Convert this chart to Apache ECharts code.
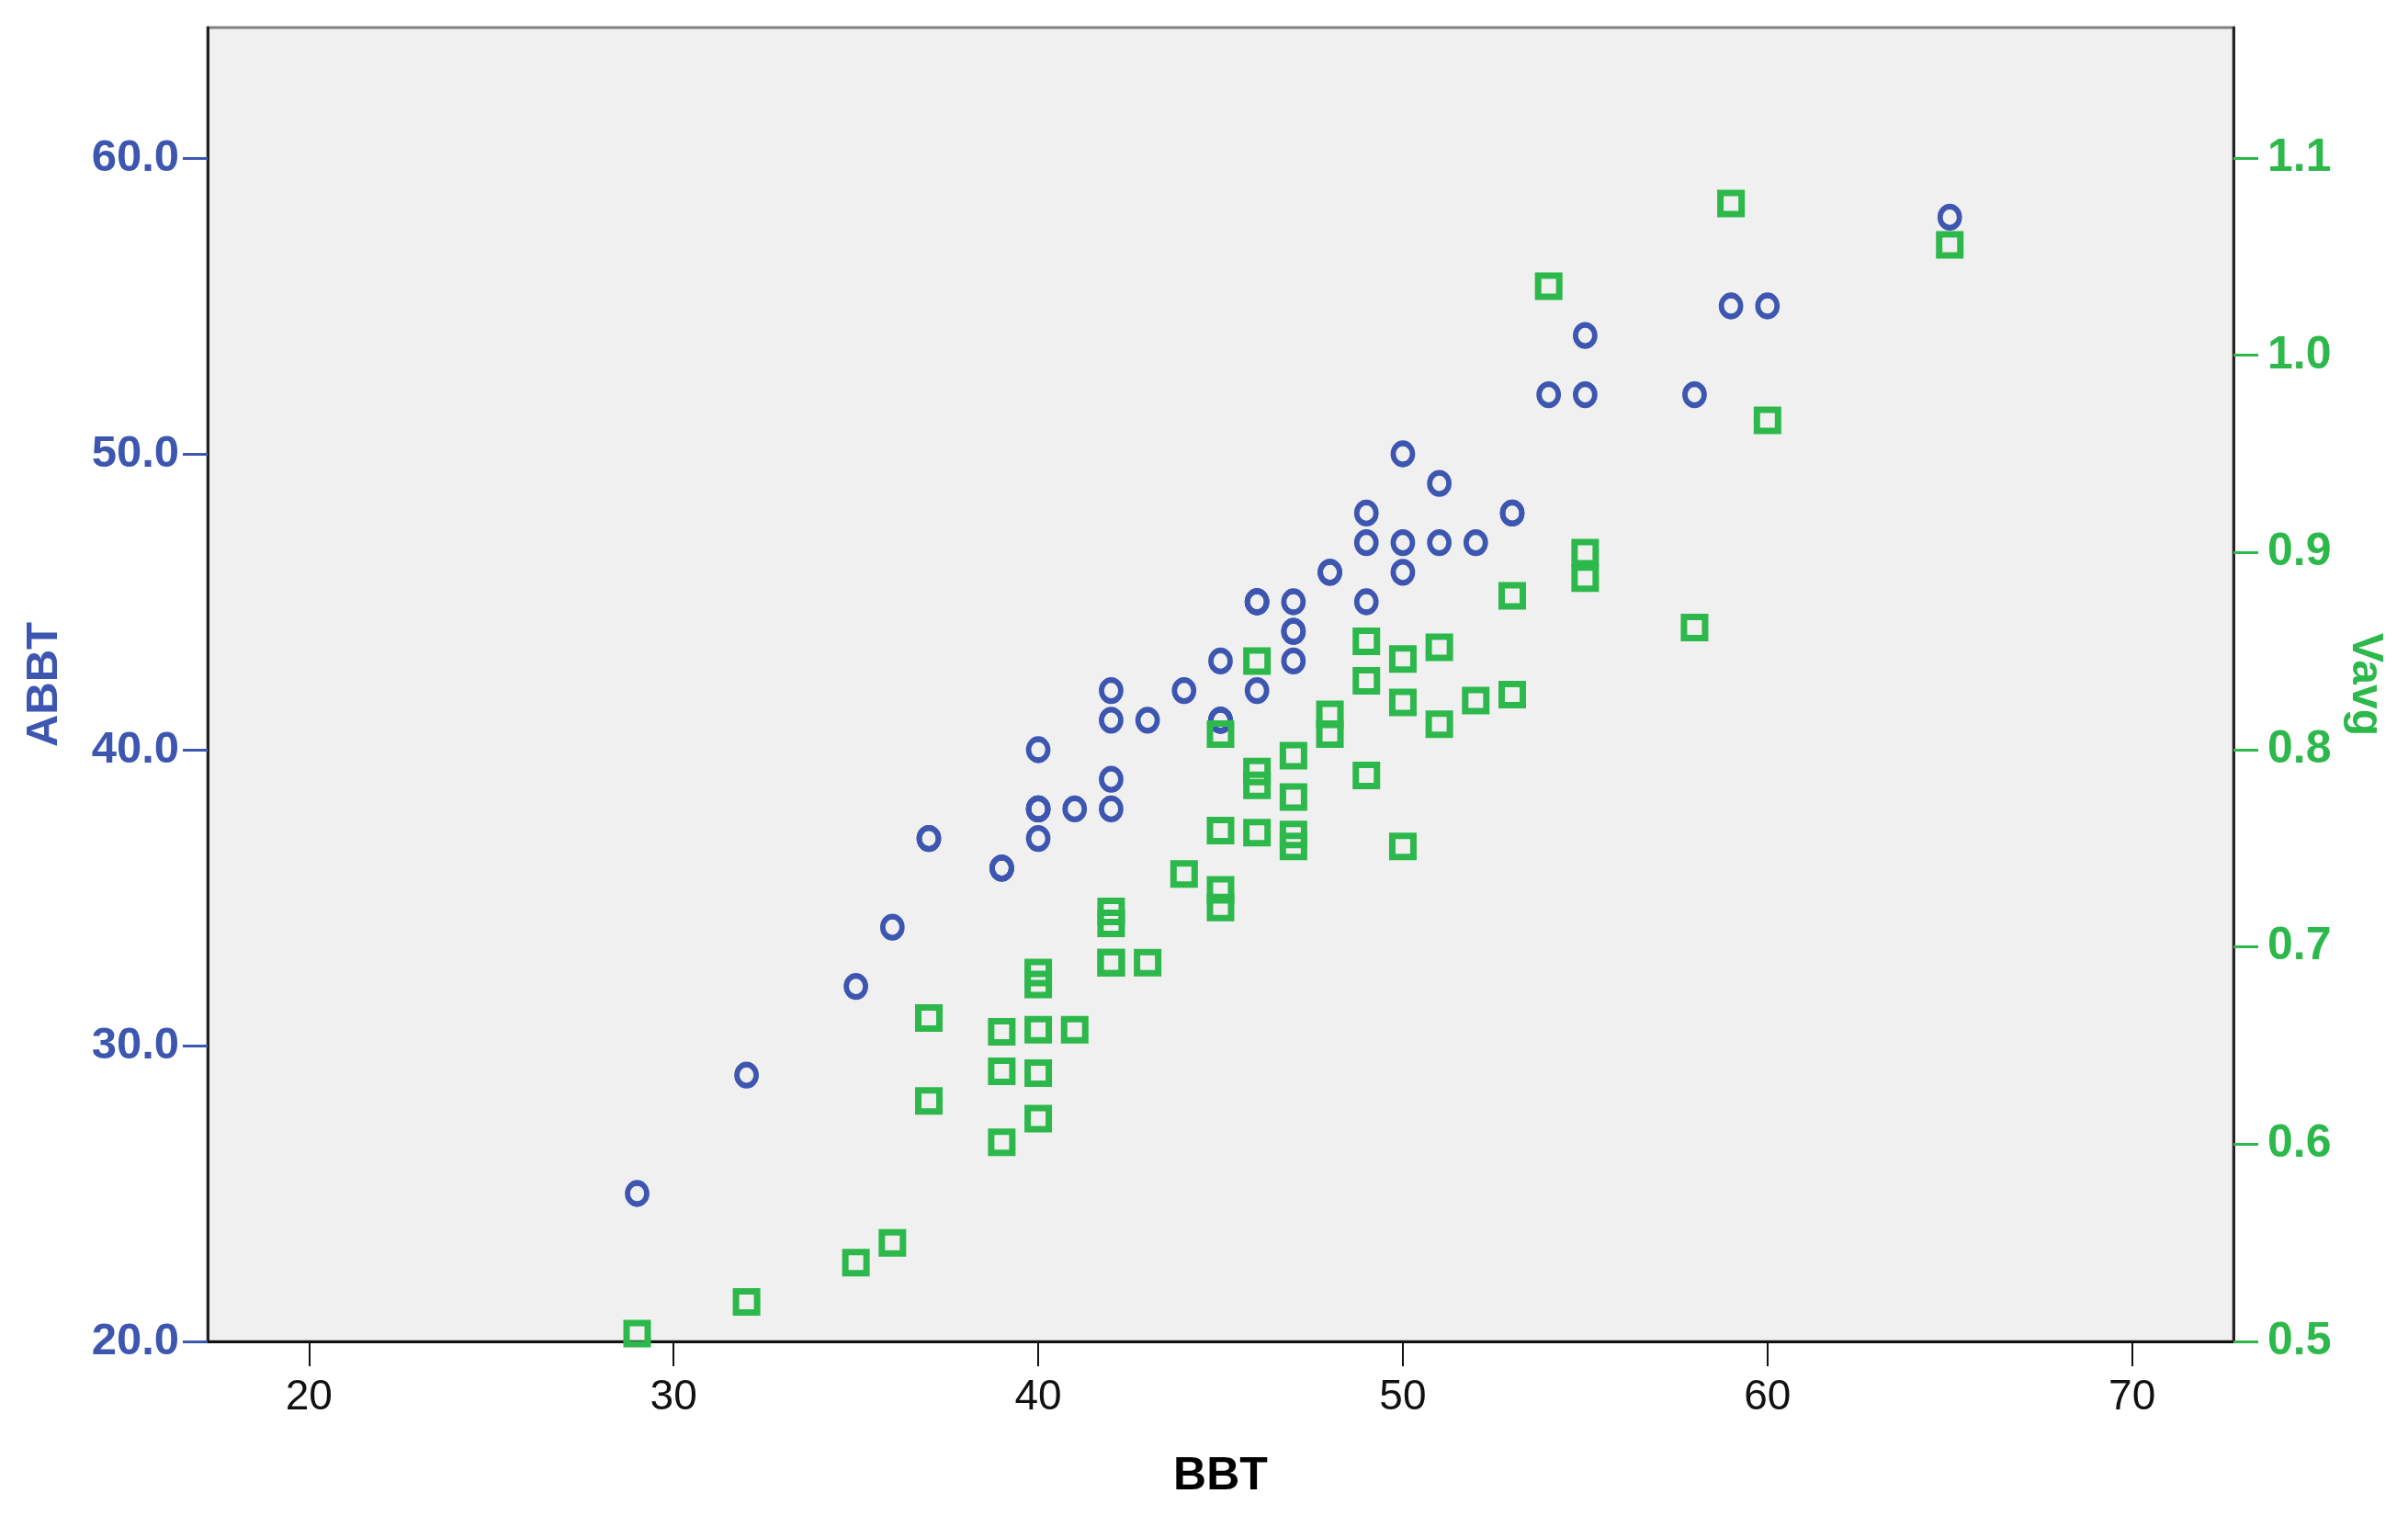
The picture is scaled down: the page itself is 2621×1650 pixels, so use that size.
<!DOCTYPE html>
<html>
<head>
<meta charset="utf-8">
<script src="https://cdn.jsdelivr.net/npm/echarts@6/dist/echarts.min.js"></script>
<style>
  html, body { margin: 0; padding: 0; background: #fff; }
  #chart { width: 2621px; height: 1650px; }
</style>
</head>
<body>
<div id="chart"></div>
<script>
// one entry per subject: BBT (x), ABBT (left axis), Vavg (right axis)
var bbt = [29, 32, 35, 36, 37, 37, 39, 39, 39, 40, 40, 40, 40, 40, 41, 42, 42, 42, 42, 43,
  44, 45, 45, 45, 45, 46, 46, 46, 46, 47, 47, 47, 47, 48, 48, 49, 49, 49, 50, 50,
  50, 51, 51, 52, 53, 53, 54, 55, 55, 58, 59, 60, 65];
var abbt = [25, 29, 32, 34, 37, 37, 36, 36, 36, 40, 38, 38, 38, 37, 38, 42, 41, 39, 38, 41,
  42, 43, 41, 41, 41, 45, 45, 45, 42, 45, 44, 44, 43, 46, 46, 48, 47, 45, 50, 47,
  46, 49, 47, 47, 48, 48, 52, 54, 52, 52, 55, 55, 58];
var vavg = [0.504, 0.520, 0.540, 0.550, 0.664, 0.622, 0.657, 0.637, 0.601, 0.687, 0.681, 0.658, 0.636, 0.613, 0.658, 0.718, 0.712, 0.692, 0.692, 0.692,
  0.737, 0.808, 0.759, 0.729, 0.720, 0.845, 0.789, 0.782, 0.758, 0.797, 0.776, 0.757, 0.751, 0.818, 0.808, 0.855, 0.835, 0.787, 0.846, 0.824,
  0.751, 0.852, 0.813, 0.825, 0.878, 0.828, 1.035, 0.900, 0.887, 0.862, 1.077, 0.967, 1.056];

var xTicks = [20, 30, 40, 50, 60, 70];
var leftTicks = [20, 30, 40, 50, 60];
var rightTicks = [0.5, 0.6, 0.7, 0.8, 0.9, 1.0, 1.1];

var blue = "#3d56b0";
var green = "#2db84b";
var sans = "'Liberation Sans', Arial, sans-serif";

var circleData = [];
var squareData = [];
for (var i = 0; i < bbt.length; i++) {
  circleData.push([bbt[i], abbt[i]]);
  squareData.push([bbt[i], vavg[i]]);
}

var chart = echarts.init(document.getElementById("chart"), null, { renderer: "canvas" });

var option = {
  animation: false,
  backgroundColor: "#fff",
  grid: {
    left: 226,
    right: 190,
    top: 30,
    bottom: 190,
    show: true,
    backgroundColor: "#f0f0f0",
    borderColor: "#808080",
    borderWidth: 3
  },
  xAxis: {
    type: "value",
    min: 17.22,
    max: 72.78,
    name: "BBT",
    nameLocation: "middle",
    nameGap: 122,
    nameTextStyle: { fontFamily: sans, fontWeight: "bold", fontSize: 50, color: "#000" },
    axisLine: { show: true, onZero: false, lineStyle: { color: "#111", width: 3 } },
    axisTick: { show: true, customValues: xTicks, length: 27, lineStyle: { color: "#111", width: 2 } },
    axisLabel: {
      customValues: xTicks,
      margin: 38,
      fontFamily: sans,
      fontSize: 46,
      color: "#111"
    },
    splitLine: { show: false }
  },
  yAxis: [
    {
      type: "value",
      min: 20,
      max: 64.41,
      position: "left",
      name: "ABBT",
      nameLocation: "middle",
      nameGap: 153,
      nameRotate: 90,
      nameTextStyle: { fontFamily: sans, fontWeight: "bold", fontSize: 49, color: blue },
      axisLine: { show: true, onZero: false, lineStyle: { color: "#222", width: 3 } },
      axisTick: { show: true, customValues: leftTicks, length: 27, lineStyle: { color: blue, width: 3 } },
      axisLabel: {
        customValues: leftTicks,
        margin: 31,
        fontFamily: sans,
        fontWeight: "bold",
        fontSize: 49,
        color: blue,
        formatter: function (v) { return v.toFixed(1); }
      },
      splitLine: { show: false }
    },
    {
      type: "value",
      min: 0.5,
      max: 1.1662,
      position: "right",
      name: "Vavg",
      nameLocation: "middle",
      nameGap: 119,
      nameRotate: -90,
      nameTextStyle: { fontFamily: sans, fontWeight: "bold", fontSize: 48, color: green },
      axisLine: { show: true, onZero: false, lineStyle: { color: "#222", width: 3 } },
      axisTick: { show: true, customValues: rightTicks, length: 27, lineStyle: { color: green, width: 3 } },
      axisLabel: {
        customValues: rightTicks,
        margin: 37,
        fontFamily: sans,
        fontWeight: "bold",
        fontSize: 50,
        color: green,
        formatter: function (v) { return v.toFixed(1); }
      },
      splitLine: { show: false }
    }
  ],
  series: [
    {
      name: "ABBT",
      type: "scatter",
      yAxisIndex: 0,
      symbol: "circle",
      symbolSize: [21, 23],
      itemStyle: { color: "rgba(0,0,0,0)", borderColor: blue, borderWidth: 6, opacity: 1 },
      data: circleData,
      z: 3
    },
    {
      name: "Vavg",
      type: "scatter",
      yAxisIndex: 1,
      symbol: "rect",
      symbolSize: 23,
      itemStyle: { color: "rgba(0,0,0,0)", borderColor: green, borderWidth: 7, opacity: 1 },
      data: squareData,
      z: 4
    }
  ]
};

chart.setOption(option);
</script>
</body>
</html>
